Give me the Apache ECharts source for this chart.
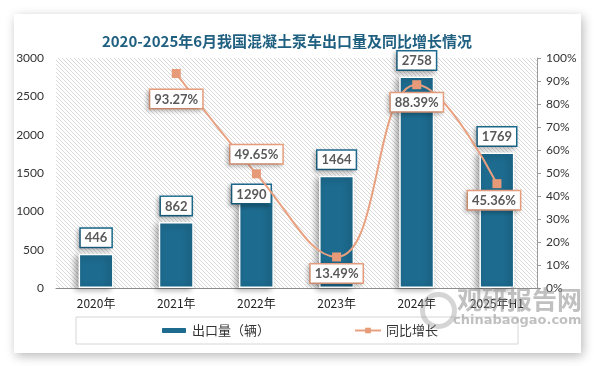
<!DOCTYPE html>
<html>
<head>
<meta charset="utf-8">
<script src="https://cdn.jsdelivr.net/npm/echarts@6/dist/echarts.min.js"></script>
<style>
html,body{margin:0;padding:0;background:#fff;width:594px;height:366px;overflow:hidden;}
#card{position:absolute;left:14px;top:14px;width:567px;height:339px;background:#fff;box-shadow:2px 3px 10px rgba(0,0,0,0.28);}
#chart{position:absolute;left:0;top:0;width:594px;height:366px;}
</style>
</head>
<body>
<div id="card"></div>
<div id="chart"></div>
<script>
var categories = ['2020年','2021年','2022年','2023年','2024年','2025年H1'];
var exportVolume = [446, 862, 1290, 1464, 2758, 1769];
var yoyGrowth = ['-', 93.27, 49.65, 13.49, 88.39, 45.36];
var leftTicks = {min: 0, max: 3000, interval: 500};
var rightTicks = {min: 0, max: 100, interval: 10};

var barColor = '#1d6b8f';
var lineColor = '#e9a07f';
var numFont = 'Lato, "Noto Sans CJK SC", sans-serif';
var cjkFont = '"Noto Sans CJK SC", "Microsoft YaHei", sans-serif';

// hatch pattern
var pc = document.createElement('canvas');
pc.width = 4; pc.height = 4;
var pctx = pc.getContext('2d');
pctx.fillStyle = '#ffffff'; pctx.fillRect(0,0,4,4);
pctx.strokeStyle = '#d9d9d9'; pctx.lineWidth = 1;
pctx.beginPath();
pctx.moveTo(-1,-1); pctx.lineTo(5,5);
pctx.moveTo(-1,3); pctx.lineTo(1,5);
pctx.moveTo(3,-1); pctx.lineTo(5,1);
pctx.stroke();

var barLabelOverrides = {2: {offset: [-5, 21]}};
var lineLabelOverrides = {
  1: {position: 'bottom', distance: 12},
  2: {position: 'top', distance: 6},
  3: {position: 'bottom', distance: 3},
  4: {position: 'bottom', distance: 4},
  5: {position: 'bottom', distance: 3, offset: [-3, 0]}
};

var barData = exportVolume.map(function(v, i){
  var item = {value: v};
  if (barLabelOverrides[i]) item.label = barLabelOverrides[i];
  return item;
});
var lineData = yoyGrowth.map(function(v, i){
  var item = {value: v};
  if (lineLabelOverrides[i]) item.label = lineLabelOverrides[i];
  return item;
});

var chart = echarts.init(document.getElementById('chart'));
chart.setOption({
  animation: false,
  title: {
    text: '2020-2025年6月我国混凝土泵车出口量及同比增长情况',
    left: 282, top: 29, textAlign: 'center',
    textStyle: {color: '#1f5f80', fontSize: 15, fontWeight: 'bold', fontFamily: cjkFont}
  },
  legend: {
    left: 76, top: 317,
    padding: [7, 80, 7, 84],
    itemGap: 84,
    itemWidth: 26, itemHeight: 7,
    borderColor: '#d6d6d6', borderWidth: 1,
    textStyle: {color: '#333', fontSize: 13, fontFamily: cjkFont},
    data: ['出口量（辆）', '同比增长']
  },
  grid: {
    left: 56, right: 57, top: 58, bottom: 78,
    show: true, borderWidth: 0,
    backgroundColor: {image: pc, repeat: 'repeat'}
  },
  xAxis: {
    type: 'category',
    data: categories,
    axisLine: {lineStyle: {color: '#8c8c8c', width: 1}},
    axisTick: {alignWithLabel: true, length: 5, lineStyle: {color: '#8c8c8c'}},
    axisLabel: {color: '#222', fontSize: 12, margin: 9, fontFamily: cjkFont}
  },
  yAxis: [{
    type: 'value', min: leftTicks.min, max: leftTicks.max, interval: leftTicks.interval,
    axisLine: {show: false}, axisTick: {show: false}, splitLine: {show: false},
    axisLabel: {color: '#333', fontSize: 12, margin: 12, fontFamily: numFont,
      formatter: function(v){ return String(v); }}
  }, {
    type: 'value', min: rightTicks.min, max: rightTicks.max, interval: rightTicks.interval,
    position: 'right',
    axisLine: {show: true, lineStyle: {color: '#9a9a9a'}},
    axisTick: {show: true, inside: false, length: 4, lineStyle: {color: '#9a9a9a'}},
    splitLine: {show: false},
    axisLabel: {color: '#333', fontSize: 12, margin: 9, formatter: '{value}%', fontFamily: numFont}
  }],
  series: [{
    name: '出口量（辆）',
    type: 'bar',
    barWidth: 35,
    data: barData,
    itemStyle: {
      color: barColor, borderColor: '#ffffff', borderWidth: 1.5,
      shadowBlur: 6, shadowColor: 'rgba(0,0,0,0.35)', shadowOffsetX: -3, shadowOffsetY: 2
    },
    label: {
      show: true, position: 'top', distance: 7,
      color: '#595959', fontWeight: 'bold', fontSize: 13, fontFamily: numFont,
      backgroundColor: '#fff', borderColor: barColor, borderWidth: 1.5,
      padding: [3, 4, 2, 4],
      shadowBlur: 4, shadowColor: 'rgba(0,0,0,0.25)', shadowOffsetX: -2, shadowOffsetY: 2
    },
    z: 2
  }, {
    name: '同比增长',
    type: 'line',
    yAxisIndex: 1,
    smooth: 0.45,
    data: lineData,
    symbol: 'rect', symbolSize: 9,
    lineStyle: {color: lineColor, width: 2},
    itemStyle: {color: '#e69a78'},
    label: {
      show: true, formatter: '{c}%',
      color: '#595959', fontWeight: 'bold', fontSize: 13, fontFamily: numFont,
      backgroundColor: '#fff', borderColor: lineColor, borderWidth: 1.5,
      padding: [3, 4, 2, 4],
      shadowBlur: 4, shadowColor: 'rgba(0,0,0,0.2)', shadowOffsetX: -2, shadowOffsetY: 2
    },
    z: 3
  }],
  graphic: [{
    type: 'text', left: 457, top: 287, z: 100,
    style: {text: '观研报告网', fill: 'rgba(140,140,140,0.55)', fontSize: 25, fontWeight: 'bold', fontFamily: cjkFont}
  }, {
    type: 'text', left: 453, top: 314, z: 100,
    style: {text: 'chinabaogao.com', fill: 'rgba(140,140,140,0.55)', fontSize: 13, fontWeight: 'bold', fontFamily: 'DejaVu Sans, sans-serif'}
  }, {
    type: 'circle', left: 420, top: 292, z: 100,
    shape: {r: 16},
    style: {fill: 'none', stroke: 'rgba(150,150,150,0.4)', lineWidth: 5}
  }]
});
</script>
</body>
</html>
